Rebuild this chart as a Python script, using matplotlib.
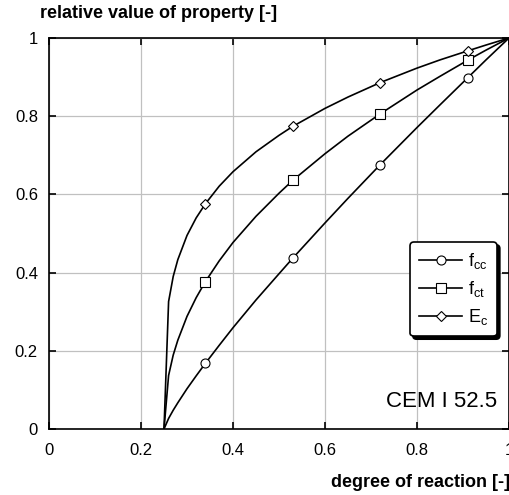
import numpy as np
import matplotlib.pyplot as plt
from matplotlib.lines import Line2D

plt.rcParams['font.family'] = ['Liberation Sans', 'DejaVu Sans']
plt.rcParams['mathtext.fontset'] = 'custom'
plt.rcParams['mathtext.rm'] = 'Liberation Sans'
plt.rcParams['mathtext.it'] = 'Liberation Sans'

# degree of reaction and relative property curves (hydration starts at 0.25)
alpha = [0.25, 0.26, 0.27, 0.28, 0.30, 0.32, 0.34, 0.37, 0.40, 0.45,
         0.50, 0.53, 0.60, 0.65, 0.72, 0.80, 0.85, 0.91, 0.95, 1.0]
fcc = [0.0, 0.027, 0.048, 0.067, 0.103, 0.136, 0.168, 0.214, 0.259, 0.330,
       0.397, 0.437, 0.527, 0.590, 0.676, 0.771, 0.829, 0.898, 0.944, 1.0]
fct = [0.0, 0.137, 0.189, 0.227, 0.288, 0.336, 0.377, 0.430, 0.477, 0.544,
       0.603, 0.636, 0.704, 0.749, 0.806, 0.867, 0.902, 0.943, 0.969, 1.0]
Ec = [0.0, 0.326, 0.390, 0.433, 0.495, 0.540, 0.576, 0.621, 0.658, 0.709,
      0.751, 0.774, 0.820, 0.849, 0.886, 0.923, 0.944, 0.967, 0.982, 1.0]

# marker positions
alpha_mk = [0.34, 0.53, 0.72, 0.91]
fcc_mk = [0.168, 0.437, 0.676, 0.898]
fct_mk = [0.377, 0.636, 0.806, 0.943]
Ec_mk = [0.576, 0.774, 0.886, 0.967]

fig = plt.figure(figsize=(5.10, 4.95), dpi=100)
ax = fig.add_axes([49/510, 66/495, 460/510, 391/495])

series = [
    (fcc, fcc_mk, 'o', 6.5, r'f$_\mathregular{cc}$'),
    (fct, fct_mk, 's', 7, r'f$_\mathregular{ct}$'),
    (Ec, Ec_mk, 'D', 5, r'E$_\mathregular{c}$'),
]
handles = []
for y, ymk, m, ms, lab in series:
    ax.plot(alpha, y, color='black', lw=1.2, zorder=3)
    ax.plot(alpha_mk, ymk, ls='none', marker=m, ms=ms, mfc='white',
            mec='black', mew=0.8, zorder=4)
    handles.append(Line2D([], [], color='black', lw=1.2, marker=m, ms=ms,
                          mfc='white', mec='black', mew=0.8, label=lab))

ax.set_xlim(0, 1)
ax.set_ylim(0, 1)
ax.set_xticks([0, 0.2, 0.4, 0.6, 0.8, 1])
ax.set_xticklabels(['0', '0.2', '0.4', '0.6', '0.8', '1'])
ax.set_yticks([0, 0.2, 0.4, 0.6, 0.8, 1])
ax.set_yticklabels(['0', '0.2', '0.4', '0.6', '0.8', '1'])
ax.grid(True, color='#c0c0c0', lw=0.9)
ax.set_axisbelow(True)
ax.tick_params(direction='in', length=5, width=1.2, labelsize=12,
               top=True, right=True)
ax.tick_params(axis='x', pad=10)
ax.tick_params(axis='y', pad=8)
for s in ax.spines.values():
    s.set_linewidth(1.2)

leg = ax.legend(handles=handles, loc='upper right', bbox_to_anchor=(0.974, 0.478),
                borderaxespad=0, fontsize=13, handlelength=2.4,
                labelspacing=0.45, handletextpad=0.3, borderpad=0.5,
                frameon=True, fancybox=True, framealpha=1,
                edgecolor='black', shadow={'color': 'black', 'alpha': 1})
leg.get_frame().set_linewidth(1.2)

ax.text(0.975, 0.07, 'CEM I 52.5', transform=ax.transAxes, ha='right',
        va='center', fontsize=16)

fig.text(40/510, 0.972, 'relative value of property [-]', fontsize=13,
         fontweight='bold', ha='left', va='center')
fig.text(1.0, 0.026, 'degree of reaction [-]', fontsize=13,
         fontweight='bold', ha='right', va='center')

fig.savefig('out.png', dpi=100)
